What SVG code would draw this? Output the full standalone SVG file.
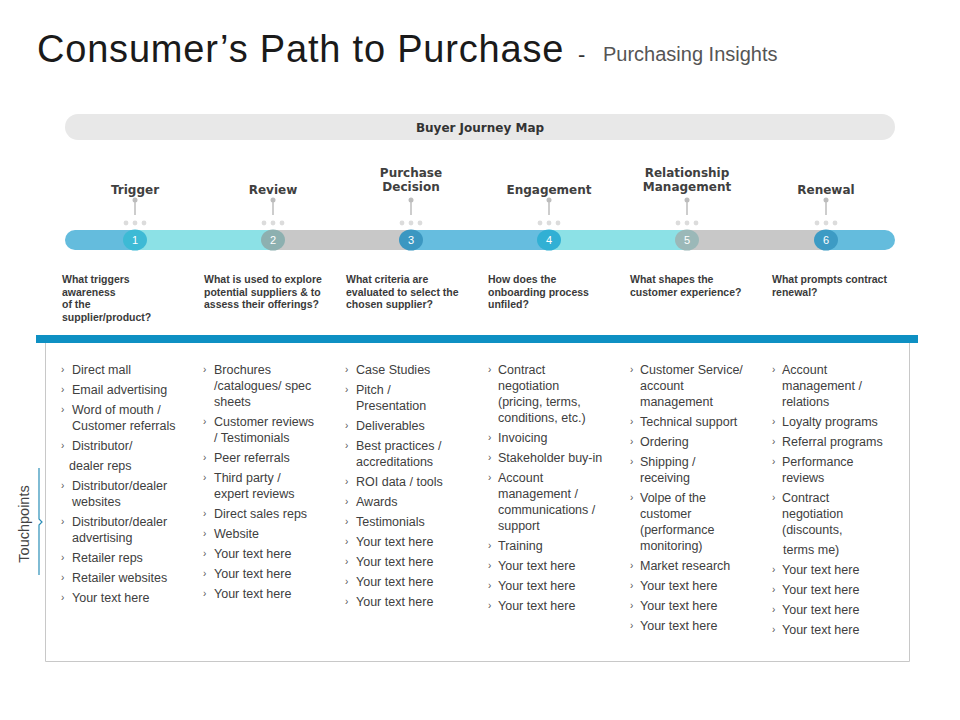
<svg xmlns="http://www.w3.org/2000/svg" width="960" height="720" viewBox="0 0 960 720">
  <defs>
    <style>
      .title{font-family:"Liberation Sans",Arial,sans-serif;fill:#1a1a1a;}
      .stage{font-family:"DejaVu Sans",sans-serif;font-weight:bold;font-size:12px;fill:#404040;text-anchor:middle;}
      .num{font-family:"Liberation Sans",Arial,sans-serif;font-size:11px;fill:#fff;text-anchor:middle;}
      .q{font-family:"Liberation Sans",Arial,sans-serif;font-weight:bold;font-size:10.5px;fill:#3a3a3a;}
      .it{font-family:"Liberation Sans",Arial,sans-serif;font-size:12.5px;fill:#404040;}
      .bl{font-family:"Liberation Sans",Arial,sans-serif;font-size:10px;fill:#555;}
      .stem{stroke:#bdbdbd;stroke-width:1.5;fill:none;}
      .knob{fill:#bdbdbd;}
      .dot{fill:#dcdcdc;}
    </style>
    <clipPath id="barClip">
      <rect x="65" y="230" width="830" height="20" rx="10" ry="10"/>
    </clipPath>
  </defs>
  <rect width="960" height="720" fill="#fff"/>

  <!-- Title -->
  <g id="title">
    <text class="title" x="37" y="62" font-size="38" letter-spacing="0.8">Consumer’s Path to Purchase</text>
    <text class="title" x="578" y="62" font-size="22" style="fill:#333">-</text>
    <text class="title" x="603" y="61" font-size="20" style="fill:#555">Purchasing Insights</text>
  </g>

  <!-- Buyer Journey Map header -->
  <g id="header">
    <rect x="65" y="114" width="830" height="26" rx="13" ry="13" fill="#e8e8e8"/>
    <text x="480" y="132" text-anchor="middle" font-family="'DejaVu Sans',sans-serif" font-weight="bold" font-size="12px" fill="#333">Buyer Journey Map</text>
  </g>

  <!-- Timeline bar -->
  <g id="timeline" clip-path="url(#barClip)">
    <rect x="65" y="230" width="70" height="20" fill="#64bcdd"/>
    <rect x="135" y="230" width="138" height="20" fill="#8ce1e6"/>
    <rect x="273" y="230" width="137" height="20" fill="#c8c8c8"/>
    <rect x="410" y="230" width="138" height="20" fill="#66bddf"/>
    <rect x="548" y="230" width="138" height="20" fill="#8ce1e6"/>
    <rect x="686" y="230" width="138" height="20" fill="#c8c8c8"/>
    <rect x="824" y="230" width="71" height="20" fill="#64bcdd"/>
  </g>

  <!-- Connectors: stems from labels to timeline -->
  <g id="connectors">
    <circle class="knob" cx="135" cy="200" r="2.5"/><line class="stem" x1="135" y1="200" x2="135" y2="215"/>
    <circle class="knob" cx="273" cy="200" r="2.5"/><line class="stem" x1="273" y1="200" x2="273" y2="215"/>
    <circle class="knob" cx="411" cy="200" r="2.5"/><line class="stem" x1="411" y1="200" x2="411" y2="215"/>
    <circle class="knob" cx="549" cy="200" r="2.5"/><line class="stem" x1="549" y1="200" x2="549" y2="215"/>
    <circle class="knob" cx="687" cy="200" r="2.5"/><line class="stem" x1="687" y1="200" x2="687" y2="215"/>
    <circle class="knob" cx="826" cy="200" r="2.5"/><line class="stem" x1="826" y1="200" x2="826" y2="215"/>
    <g class="dot">
      <circle cx="126" cy="223" r="2.4"/><circle cx="135" cy="223" r="2.4"/><circle cx="144" cy="223" r="2.4"/>
      <circle cx="264" cy="223" r="2.4"/><circle cx="273" cy="223" r="2.4"/><circle cx="282" cy="223" r="2.4"/>
      <circle cx="402" cy="223" r="2.4"/><circle cx="411" cy="223" r="2.4"/><circle cx="420" cy="223" r="2.4"/>
      <circle cx="540" cy="223" r="2.4"/><circle cx="549" cy="223" r="2.4"/><circle cx="558" cy="223" r="2.4"/>
      <circle cx="678" cy="223" r="2.4"/><circle cx="687" cy="223" r="2.4"/><circle cx="696" cy="223" r="2.4"/>
      <circle cx="817" cy="223" r="2.4"/><circle cx="826" cy="223" r="2.4"/><circle cx="835" cy="223" r="2.4"/>
    </g>
  </g>

  <!-- Stages -->
  <g id="stage1">
    <text class="stage" x="135" y="194">Trigger</text>
    <ellipse cx="135" cy="240" rx="12" ry="10.5" fill="#3dbad5"/>
    <text class="num" x="135" y="244">1</text>
  </g>
  <g id="stage2">
    <text class="stage" x="273" y="194">Review</text>
    <ellipse cx="273" cy="240" rx="12" ry="10.5" fill="#8db0b0"/>
    <text class="num" x="273" y="244">2</text>
  </g>
  <g id="stage3">
    <text class="stage" x="411" y="177">Purchase</text>
    <text class="stage" x="411" y="191">Decision</text>
    <ellipse cx="411" cy="240" rx="12" ry="10.5" fill="#3b97c1"/>
    <text class="num" x="411" y="244">3</text>
  </g>
  <g id="stage4">
    <text class="stage" x="549" y="194">Engagement</text>
    <ellipse cx="549" cy="240" rx="12" ry="10.5" fill="#31b0d4"/>
    <text class="num" x="549" y="244">4</text>
  </g>
  <g id="stage5">
    <text class="stage" x="687" y="177">Relationship</text>
    <text class="stage" x="687" y="191">Management</text>
    <ellipse cx="687" cy="240" rx="12" ry="10.5" fill="#9bb8b8"/>
    <text class="num" x="687" y="244">5</text>
  </g>
  <g id="stage6">
    <text class="stage" x="826" y="194">Renewal</text>
    <ellipse cx="826" cy="240" rx="12" ry="10.5" fill="#3d9bc4"/>
    <text class="num" x="826" y="244">6</text>
  </g>

  <!-- Questions -->
  <g id="questions">
    <text class="q" x="62" y="283">What triggers</text>
    <text class="q" x="62" y="296">awareness</text>
    <text class="q" x="62" y="308">of the</text>
    <text class="q" x="62" y="321">supplier/product?</text>

    <text class="q" x="204" y="283">What is used to explore</text>
    <text class="q" x="204" y="296">potential suppliers &amp; to</text>
    <text class="q" x="204" y="308">assess their offerings?</text>

    <text class="q" x="346" y="283">What criteria are</text>
    <text class="q" x="346" y="296">evaluated to select the</text>
    <text class="q" x="346" y="308">chosen supplier?</text>

    <text class="q" x="488" y="283">How does the</text>
    <text class="q" x="488" y="296">onboarding process</text>
    <text class="q" x="488" y="308">unfiled?</text>

    <text class="q" x="630" y="283">What shapes the</text>
    <text class="q" x="630" y="296">customer experience?</text>

    <text class="q" x="772" y="283">What prompts contract</text>
    <text class="q" x="772" y="296">renewal?</text>
  </g>

  <!-- Touchpoints panel -->
  <g id="panel">
    <rect x="36" y="335" width="882" height="8" fill="#0e90c3"/>
    <path d="M45.5 343 V661.5 H909.5 V343" fill="none" stroke="#c8c8c8" stroke-width="1"/>
  </g>

  <g id="touchpoints-label">
    <text transform="translate(29,524) rotate(-90)" text-anchor="middle" font-family="'Liberation Sans',Arial,sans-serif" font-size="14.5px" fill="#444">Touchpoints</text>
    <path d="M39 468 V519 L42 522 L39 525 V575" fill="none" stroke="#2c8fb8" stroke-width="1.2"/>
  </g>

  <!-- Column 1 -->
  <g id="col1">
    <text class="bl" x="61" y="373">›</text><text class="it" x="72" y="374">Direct mall</text>
    <text class="bl" x="61" y="393">›</text><text class="it" x="72" y="394">Email advertising</text>
    <text class="bl" x="61" y="413">›</text><text class="it" x="72" y="414">Word of mouth /</text>
    <text class="it" x="72" y="430">Customer referrals</text>
    <text class="bl" x="61" y="449">›</text><text class="it" x="72" y="450">Distributor/</text>
    <text class="it" x="69" y="470">dealer reps</text>
    <text class="bl" x="61" y="489">›</text><text class="it" x="72" y="490">Distributor/dealer</text>
    <text class="it" x="72" y="506">websites</text>
    <text class="bl" x="61" y="525">›</text><text class="it" x="72" y="526">Distributor/dealer</text>
    <text class="it" x="72" y="542">advertising</text>
    <text class="bl" x="61" y="561">›</text><text class="it" x="72" y="562">Retailer reps</text>
    <text class="bl" x="61" y="581">›</text><text class="it" x="72" y="582">Retailer websites</text>
    <text class="bl" x="61" y="601">›</text><text class="it" x="72" y="602">Your text here</text>
  </g>

  <!-- Column 2 -->
  <g id="col2">
    <text class="bl" x="203" y="373">›</text><text class="it" x="214" y="374">Brochures</text>
    <text class="it" x="214" y="390">/catalogues/ spec</text>
    <text class="it" x="214" y="406">sheets</text>
    <text class="bl" x="203" y="425">›</text><text class="it" x="214" y="426">Customer reviews</text>
    <text class="it" x="214" y="442">/ Testimonials</text>
    <text class="bl" x="203" y="461">›</text><text class="it" x="214" y="462">Peer referrals</text>
    <text class="bl" x="203" y="481">›</text><text class="it" x="214" y="482">Third party /</text>
    <text class="it" x="214" y="498">expert reviews</text>
    <text class="bl" x="203" y="517">›</text><text class="it" x="214" y="518">Direct sales reps</text>
    <text class="bl" x="203" y="537">›</text><text class="it" x="214" y="538">Website</text>
    <text class="bl" x="203" y="557">›</text><text class="it" x="214" y="558">Your text here</text>
    <text class="bl" x="203" y="577">›</text><text class="it" x="214" y="578">Your text here</text>
    <text class="bl" x="203" y="597">›</text><text class="it" x="214" y="598">Your text here</text>
  </g>

  <!-- Column 3 -->
  <g id="col3">
    <text class="bl" x="345" y="373">›</text><text class="it" x="356" y="374">Case Studies</text>
    <text class="bl" x="345" y="393">›</text><text class="it" x="356" y="394">Pitch /</text>
    <text class="it" x="356" y="410">Presentation</text>
    <text class="bl" x="345" y="429">›</text><text class="it" x="356" y="430">Deliverables</text>
    <text class="bl" x="345" y="449">›</text><text class="it" x="356" y="450">Best practices /</text>
    <text class="it" x="356" y="466">accreditations</text>
    <text class="bl" x="345" y="485">›</text><text class="it" x="356" y="486">ROI data / tools</text>
    <text class="bl" x="345" y="505">›</text><text class="it" x="356" y="506">Awards</text>
    <text class="bl" x="345" y="525">›</text><text class="it" x="356" y="526">Testimonials</text>
    <text class="bl" x="345" y="545">›</text><text class="it" x="356" y="546">Your text here</text>
    <text class="bl" x="345" y="565">›</text><text class="it" x="356" y="566">Your text here</text>
    <text class="bl" x="345" y="585">›</text><text class="it" x="356" y="586">Your text here</text>
    <text class="bl" x="345" y="605">›</text><text class="it" x="356" y="606">Your text here</text>
  </g>

  <!-- Column 4 -->
  <g id="col4">
    <text class="bl" x="488" y="373">›</text><text class="it" x="498" y="374">Contract</text>
    <text class="it" x="498" y="390">negotiation</text>
    <text class="it" x="498" y="406">(pricing, terms,</text>
    <text class="it" x="498" y="422">conditions, etc.)</text>
    <text class="bl" x="488" y="441">›</text><text class="it" x="498" y="442">Invoicing</text>
    <text class="bl" x="488" y="461">›</text><text class="it" x="498" y="462">Stakeholder buy-in</text>
    <text class="bl" x="488" y="481">›</text><text class="it" x="498" y="482">Account</text>
    <text class="it" x="498" y="498">management  /</text>
    <text class="it" x="498" y="514">communications  /</text>
    <text class="it" x="498" y="530">support</text>
    <text class="bl" x="488" y="549">›</text><text class="it" x="498" y="550">Training</text>
    <text class="bl" x="488" y="569">›</text><text class="it" x="498" y="570">Your text here</text>
    <text class="bl" x="488" y="589">›</text><text class="it" x="498" y="590">Your text here</text>
    <text class="bl" x="488" y="609">›</text><text class="it" x="498" y="610">Your text here</text>
  </g>

  <!-- Column 5 -->
  <g id="col5">
    <text class="bl" x="630" y="373">›</text><text class="it" x="640" y="374">Customer Service/</text>
    <text class="it" x="640" y="390">account</text>
    <text class="it" x="640" y="406">management</text>
    <text class="bl" x="630" y="425">›</text><text class="it" x="640" y="426">Technical support</text>
    <text class="bl" x="630" y="445">›</text><text class="it" x="640" y="446">Ordering</text>
    <text class="bl" x="630" y="465">›</text><text class="it" x="640" y="466">Shipping /</text>
    <text class="it" x="640" y="482">receiving</text>
    <text class="bl" x="630" y="501">›</text><text class="it" x="640" y="502">Volpe of the</text>
    <text class="it" x="640" y="518">customer</text>
    <text class="it" x="640" y="534">(performance</text>
    <text class="it" x="640" y="550">monitoring)</text>
    <text class="bl" x="630" y="569">›</text><text class="it" x="640" y="570">Market research</text>
    <text class="bl" x="630" y="589">›</text><text class="it" x="640" y="590">Your text here</text>
    <text class="bl" x="630" y="609">›</text><text class="it" x="640" y="610">Your text here</text>
    <text class="bl" x="630" y="629">›</text><text class="it" x="640" y="630">Your text here</text>
  </g>

  <!-- Column 6 -->
  <g id="col6">
    <text class="bl" x="772" y="373">›</text><text class="it" x="782" y="374">Account</text>
    <text class="it" x="782" y="390">management  /</text>
    <text class="it" x="782" y="406">relations</text>
    <text class="bl" x="772" y="425">›</text><text class="it" x="782" y="426">Loyalty programs</text>
    <text class="bl" x="772" y="445">›</text><text class="it" x="782" y="446">Referral  programs</text>
    <text class="bl" x="772" y="465">›</text><text class="it" x="782" y="466">Performance</text>
    <text class="it" x="782" y="482">reviews</text>
    <text class="bl" x="772" y="501">›</text><text class="it" x="782" y="502">Contract</text>
    <text class="it" x="782" y="518">negotiation</text>
    <text class="it" x="782" y="534">(discounts,</text>
    <text class="it" x="783" y="554">terms me)</text>
    <text class="bl" x="772" y="573">›</text><text class="it" x="782" y="574">Your text here</text>
    <text class="bl" x="772" y="593">›</text><text class="it" x="782" y="594">Your text here</text>
    <text class="bl" x="772" y="613">›</text><text class="it" x="782" y="614">Your text here</text>
    <text class="bl" x="772" y="633">›</text><text class="it" x="782" y="634">Your text here</text>
  </g>
</svg>
